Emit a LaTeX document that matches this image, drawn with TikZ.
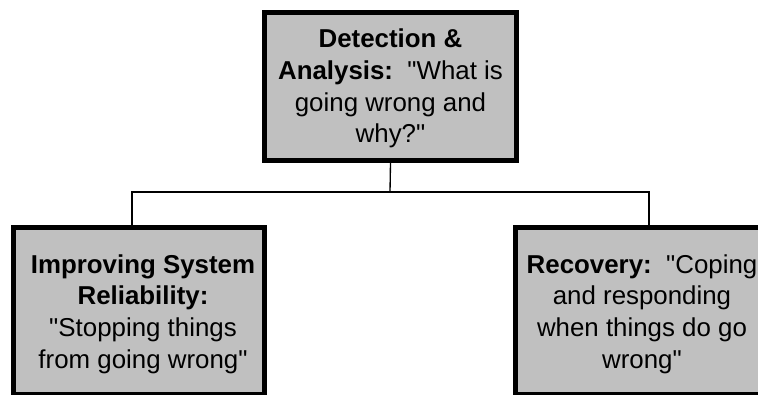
\documentclass[tikz,border=0pt]{standalone}
\usepackage{fontspec}
\setmainfont{Liberation Sans}
\definecolor{boxgray}{HTML}{C0C0C0}
\newcommand{\qq}{\textquotedbl}
\begin{document}
\begin{tikzpicture}[x=0.75pt,y=-0.75pt,
  box/.style={draw=black, line width=4pt, fill=boxgray, inner sep=0pt,
    minimum width=188pt},
  caption/.style={align=center, font=\fontsize{19.4}{23.8}\selectfont, inner sep=0pt},
  link/.style={draw=black, line width=1pt}]
\useasboundingbox (0,0) rectangle (758,394);
\clip (0,0) rectangle (758,394);

% the three boxes
\node[box, minimum width=188.7pt, minimum height=110.7pt] (detect) at (390.5,86.5) {};
\node[box, minimum height=125pt] (improve) at (139,311) {};
\node[box, minimum height=125pt] (recover) at (641,311) {};

% their captions
\node[caption] (detectText) at (390.5,88.5)
  {\textbf{Detection \&}\\\textbf{Analysis:}~~\qq What is\\going wrong and\\why?\qq};
\node[caption] (improveText) at (143,314)
  {\textbf{Improving System}\\\textbf{Reliability:}\\\qq Stopping things\\from going wrong\qq};
\node[caption] (recoverText) at (642,314)
  {\textbf{Recovery:}~~\qq Coping\\and responding\\when things do go\\wrong\qq};

% tree connectors
\coordinate (bus) at (390,192);
\draw[link] (detect.south) -- (bus);
\draw[link] ([xshift=-5.25pt]improve.north) |- (bus) -| ([xshift=6pt]recover.north);
\end{tikzpicture}
\end{document}
